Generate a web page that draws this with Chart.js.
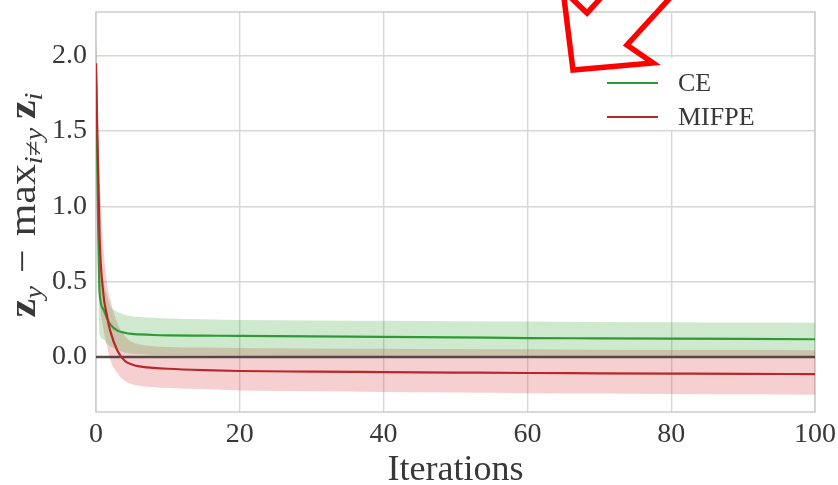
<!DOCTYPE html>
<html>
<head>
<meta charset="utf-8">
<script src="https://cdn.jsdelivr.net/npm/chart.js@4.4.1/dist/chart.umd.min.js"></script>
<style>
  html, body { margin: 0; padding: 0; background: #ffffff; }
  canvas { display: block; }
</style>
</head>
<body>
<canvas id="chart" width="838" height="485"></canvas>
<script>
// Margin z_y - max_{i!=y} z_i over attack iterations, mean with spread band
const iterations = [0, 0.5, 1, 1.5, 2, 3, 4, 5, 6, 8, 10, 15, 20, 30, 40, 50, 60, 70, 80, 90, 100];

const ceMean  = [1.9, 0.43, 0.32, 0.26, 0.215, 0.175, 0.161, 0.153, 0.15, 0.146, 0.144, 0.142, 0.14, 0.137, 0.133, 0.13, 0.126, 0.124, 0.122, 0.12, 0.118];
const ceUpper = [2.1, 0.75, 0.52, 0.42, 0.34, 0.3, 0.28, 0.27, 0.265, 0.26, 0.255, 0.25, 0.245, 0.242, 0.24, 0.238, 0.235, 0.233, 0.231, 0.229, 0.228];
const ceLower = [1.7, 0.15, 0.12, 0.09, 0.07, 0.045, 0.03, 0.022, 0.018, 0.014, 0.012, 0.01, 0.008, 0.006, 0.004, 0.002, 0.0, -0.002, -0.003, -0.004, -0.005];

const mifpeMean  = [1.95, 0.8, 0.43, 0.28, 0.17, 0.04, -0.025, -0.05, -0.062, -0.072, -0.078, -0.087, -0.093, -0.097, -0.1, -0.103, -0.106, -0.108, -0.11, -0.112, -0.113];
const mifpeUpper = [2.1, 1.2, 0.75, 0.5, 0.38, 0.22, 0.14, 0.1, 0.085, 0.072, 0.067, 0.063, 0.06, 0.057, 0.055, 0.053, 0.051, 0.049, 0.047, 0.046, 0.045];
const mifpeLower = [1.75, 0.45, 0.2, 0.08, -0.02, -0.11, -0.16, -0.18, -0.19, -0.2, -0.205, -0.213, -0.222, -0.228, -0.232, -0.236, -0.24, -0.243, -0.246, -0.248, -0.25];

const zeroLineX = [0, 100];
const zeroLineY = [0, 0];

const seriesLabels = ['CE', 'MIFPE'];
const xTicks = [0, 20, 40, 60, 80, 100];
const yTicks = [0, 0.5, 1.0, 1.5, 2.0];

const SERIF = "'Liberation Serif', 'DejaVu Serif', serif";
const TEXT = '#383838';
const GRID = '#d6d6d6';
const FRAME = '#cfcfcf';
const GREEN = '#2f9a34';
const RED = '#b8282b';

const pts = (xs, ys) => xs.map((x, i) => ({ x: x, y: ys[i] }));

const lineDs = (label, data, color, order) => ({
  label, data, order, borderColor: color, backgroundColor: color,
  borderWidth: 2.2, pointRadius: 0, fill: false, cubicInterpolationMode: 'monotone'
});
const bandDs = (data, fill, color) => ({
  label: '', data, order: 3, borderWidth: 0, borderColor: 'transparent', pointRadius: 0,
  fill, backgroundColor: color, cubicInterpolationMode: 'monotone'
});

// frame around the plotting area
const framePlugin = {
  id: 'frame',
  beforeDatasetsDraw(chart) {
    const { ctx, chartArea: a } = chart;
    ctx.save();
    ctx.strokeStyle = FRAME;
    ctx.lineWidth = 1.6;
    ctx.strokeRect(a.left, a.top, a.right - a.left, a.bottom - a.top);
    ctx.restore();
  }
};

// legend box in the upper right part of the plot
const legendPlugin = {
  id: 'innerLegend',
  afterDatasetsDraw(chart) {
    const { ctx, chartArea: a } = chart;
    const x0 = a.right - 218, y0 = a.top + 46;
    ctx.save();
    ctx.fillStyle = '#ffffff';
    ctx.fillRect(x0, y0, 170, 72);
    ctx.font = '26px ' + SERIF;
    ctx.textBaseline = 'middle';
    ctx.textAlign = 'left';
    [0, 1].forEach((idx, k) => {
      const ds = chart.data.datasets[idx];
      const y = a.top + 71 + k * 34;
      ctx.strokeStyle = ds.borderColor;
      ctx.lineWidth = 2.2;
      ctx.beginPath();
      ctx.moveTo(a.right - 208, y);
      ctx.lineTo(a.right - 157, y);
      ctx.stroke();
      ctx.fillStyle = TEXT;
      ctx.fillText(ds.label, a.right - 137, y + 1);
    });
    ctx.restore();
  }
};

// rotated y-axis title with bold vectors and subscripts
const yTitlePlugin = {
  id: 'yTitle',
  afterDraw(chart) {
    const { ctx, chartArea: a } = chart;
    const big = 38, small = 26, stretch = 1.1;
    const parts = [
      { t: 'z', f: `bold ${big}px ${SERIF}`, dy: 0 },
      { t: 'y', f: `italic ${small}px ${SERIF}`, dy: 7 },
      { gap: 12 },
      { t: '\u2212', f: `${big}px ${SERIF}`, dy: 0 },
      { gap: 12 },
      { t: 'max', f: `${big}px ${SERIF}`, dy: 0 },
      { t: 'i\u2260y', f: `italic ${small}px ${SERIF}`, dy: 7 },
      { gap: 8 },
      { t: 'z', f: `bold ${big}px ${SERIF}`, dy: 0 },
      { t: 'i', f: `italic ${small}px ${SERIF}`, dy: 7 }
    ];
    ctx.save();
    let total = 0;
    parts.forEach(p => {
      if (p.gap !== undefined) { p.width = p.gap; }
      else { ctx.font = p.f; p.width = ctx.measureText(p.t).width; }
      total += p.width;
    });
    const cy = a.top + 193;
    ctx.translate(27, cy);
    ctx.rotate(-Math.PI / 2);
    ctx.scale(stretch, 1);
    ctx.fillStyle = TEXT;
    ctx.textBaseline = 'alphabetic';
    ctx.textAlign = 'left';
    let x = -total / 2;
    parts.forEach(p => {
      if (p.gap === undefined) { ctx.font = p.f; ctx.fillText(p.t, x, 8 + p.dy); }
      x += p.width;
    });
    ctx.restore();
  }
};

// hollow red arrow pointing down-left toward the legend
const arrowPlugin = {
  id: 'arrow',
  afterDraw(chart) {
    const { ctx } = chart;
    const outline = [[563, -10], [573, 70], [653, 63], [627, 45], [691, -25], [622, -25], [587, 13]];
    ctx.save();
    ctx.strokeStyle = '#ff0000';
    ctx.lineWidth = 5.5;
    ctx.lineJoin = 'miter';
    ctx.beginPath();
    outline.forEach((p, i) => (i ? ctx.lineTo(p[0], p[1]) : ctx.moveTo(p[0], p[1])));
    ctx.closePath();
    ctx.stroke();
    ctx.restore();
  }
};

new Chart(document.getElementById('chart'), {
  type: 'line',
  data: {
    datasets: [
      lineDs(seriesLabels[0], pts(iterations, ceMean), GREEN, 1),
      lineDs(seriesLabels[1], pts(iterations, mifpeMean), RED, 0),
      { label: '', data: pts(zeroLineX, zeroLineY), order: 2, borderColor: 'rgba(72,58,58,0.9)', borderWidth: 2.6, pointRadius: 0, fill: false },
      bandDs(pts(iterations, ceUpper), '+1', 'rgba(44,160,44,0.23)'),
      bandDs(pts(iterations, ceLower), false, 'rgba(44,160,44,0.23)'),
      bandDs(pts(iterations, mifpeUpper), '+1', 'rgba(214,39,40,0.22)'),
      bandDs(pts(iterations, mifpeLower), false, 'rgba(214,39,40,0.22)')
    ]
  },
  options: {
    responsive: false,
    animation: false,
    devicePixelRatio: 1,
    layout: { padding: { top: 12, right: 23, left: 0, bottom: 0 } },
    plugins: { legend: { display: false }, tooltip: { enabled: false } },
    scales: {
      x: {
        type: 'linear', min: 0, max: 100,
        afterBuildTicks: s => { s.ticks = xTicks.map(v => ({ value: v })); },
        afterFit: s => { s.height = 73; s.paddingLeft = 0; s.paddingRight = 0; },
        grid: { color: GRID, lineWidth: 1.4, drawTicks: false },
        border: { display: false },
        ticks: { font: { family: SERIF, size: 28 }, color: TEXT, padding: 6, maxRotation: 0, callback: v => String(v) },
        title: { display: true, text: 'Iterations', color: TEXT, font: { family: SERIF, size: 36, lineHeight: 1 }, padding: { top: 0, bottom: -4 } }
      },
      y: {
        type: 'linear', min: -0.365, max: 2.29,
        afterBuildTicks: s => { s.ticks = yTicks.map(v => ({ value: v })); },
        afterFit: s => { s.width = 96; s.paddingTop = 0; s.paddingBottom = 0; },
        grid: { color: GRID, lineWidth: 1.4, drawTicks: false },
        border: { display: false },
        ticks: { font: { family: SERIF, size: 28 }, color: TEXT, padding: 9, callback: v => Number(v).toFixed(1) }
      }
    }
  },
  plugins: [framePlugin, legendPlugin, yTitlePlugin, arrowPlugin]
});
</script>
</body>
</html>
